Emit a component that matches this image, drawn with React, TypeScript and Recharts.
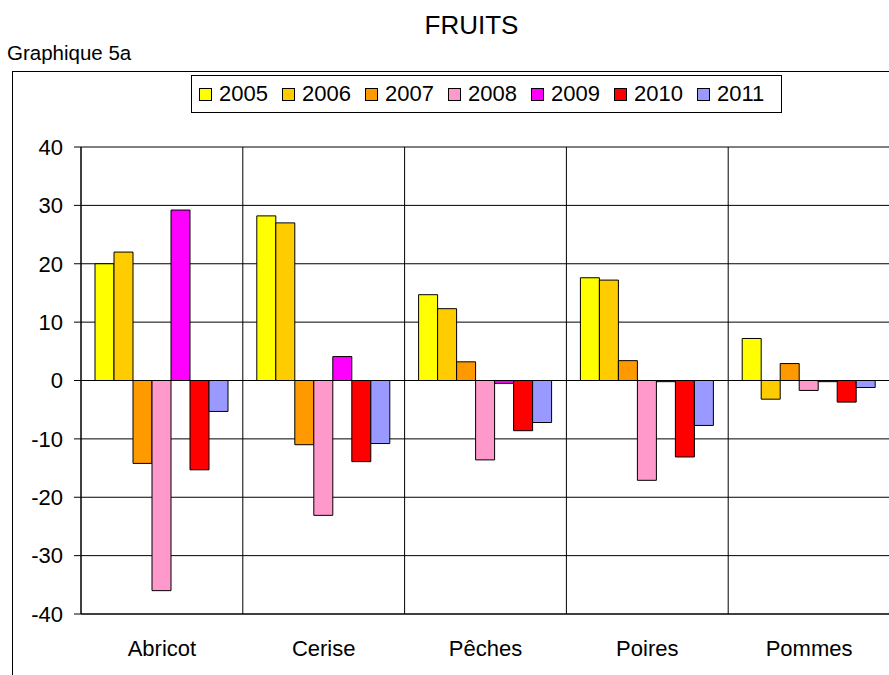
import React from "react";
import { BarChart, Bar, XAxis, YAxis, CartesianGrid, Legend } from "recharts";

const CATEGORIES = ["Abricot", "Cerise", "Pêches", "Poires", "Pommes"];
const YEARS = ["2005", "2006", "2007", "2008", "2009", "2010", "2011"];
const COLORS = ["#FFFF00", "#FFCC00", "#FF9900", "#FF99CC", "#FF00FF", "#FF0000", "#9999FF"];

const V2005 = [20.0, 28.2, 14.7, 17.6, 7.2];
const V2006 = [22.0, 27.0, 12.3, 17.2, -3.2];
const V2007 = [-14.2, -11.0, 3.2, 3.4, 2.9];
const V2008 = [-36.0, -23.1, -13.6, -17.1, -1.7];
const V2009 = [29.2, 4.1, -0.5, -0.2, -0.2];
const V2010 = [-15.3, -13.9, -8.6, -13.1, -3.7];
const V2011 = [-5.3, -10.8, -7.2, -7.7, -1.2];

const Y_TICKS = [-40, -30, -20, -10, 0, 10, 20, 30, 40];

const SERIES = [V2005, V2006, V2007, V2008, V2009, V2010, V2011];

const data = CATEGORIES.map((name, i) => {
  const row: Record<string, string | number> = { name };
  YEARS.forEach((y, j) => {
    row[y] = SERIES[j][i];
  });
  return row;
});

const FONT = '"Liberation Sans", Arial, sans-serif';

function LegendBox(props: any) {
  const payload = props.payload || [];
  return (
    <div
      style={{
        border: "1px solid #000",
        background: "#fff",
        height: 38,
        boxSizing: "border-box",
        display: "flex",
        alignItems: "center",
        paddingLeft: 7,
        fontFamily: FONT,
        fontSize: 22,
      }}
    >
      {payload.map((p: any) => (
        <div key={p.value} style={{ display: "flex", alignItems: "center", width: 83, flex: "0 0 83px" }}>
          <span
            style={{
              display: "inline-block",
              width: 11,
              height: 11,
              border: "1px solid #000",
              background: p.color,
              marginRight: 7,
            }}
          />
          <span style={{ lineHeight: "22px", color: "#000" }}>{p.value}</span>
        </div>
      ))}
    </div>
  );
}

export default function App() {
  return (
    <div
      style={{
        position: "absolute",
        left: 0,
        top: 0,
        width: 889,
        height: 675,
        overflow: "hidden",
        background: "#fff",
        fontFamily: FONT,
      }}
    >
      <div
        style={{
          position: "absolute",
          left: 0,
          top: 12,
          width: 943,
          textAlign: "center",
          fontSize: 26,
          lineHeight: "26px",
          color: "#000",
        }}
      >
        FRUITS
      </div>
      <div style={{ position: "absolute", left: 7, top: 43, fontSize: 20.5, lineHeight: "20px", color: "#000" }}>
        Graphique 5a
      </div>
      <div
        style={{
          position: "absolute",
          left: 12,
          top: 71,
          width: 950,
          height: 700,
          border: "1px solid #000",
        }}
      />
      <div style={{ position: "absolute", left: 0, top: 0 }}>
        <BarChart
          width={900}
          height={675}
          data={data}
          margin={{ top: 147, right: 10, bottom: 11, left: 0 }}
          barCategoryGap={14}
          barGap={0}
        >
          <CartesianGrid
            stroke="#000"
            strokeWidth={1}
            verticalCoordinatesGenerator={({ offset }: any) =>
              CATEGORIES.map((_, i) => offset.left + (i * offset.width) / CATEGORIES.length).concat([
                offset.left + offset.width,
              ])
            }
          />
          <XAxis
            dataKey="name"
            height={50}
            tickLine={false}
            tickSize={0}
            tickMargin={26}
            axisLine={{ stroke: "#000" }}
            tick={{ fontSize: 22, fill: "#000", fontFamily: FONT }}
          />
          <YAxis
            width={81}
            domain={[-40, 40]}
            ticks={Y_TICKS}
            interval={0}
            tickSize={7}
            tickMargin={11}
            axisLine={{ stroke: "#000" }}
            tickLine={{ stroke: "#000" }}
            tick={{ fontSize: 22, fill: "#000", fontFamily: FONT }}
          />
          <Legend
            verticalAlign="middle"
            align="center"
            layout="horizontal"
            content={<LegendBox />}
            wrapperStyle={{ left: 191, top: 75, width: 591, height: 38 }}
          />
          {YEARS.map((y, j) => (
            <Bar key={y} dataKey={y} fill={COLORS[j]} stroke="#000" strokeWidth={1} isAnimationActive={false} />
          ))}
        </BarChart>
      </div>
    </div>
  );
}
